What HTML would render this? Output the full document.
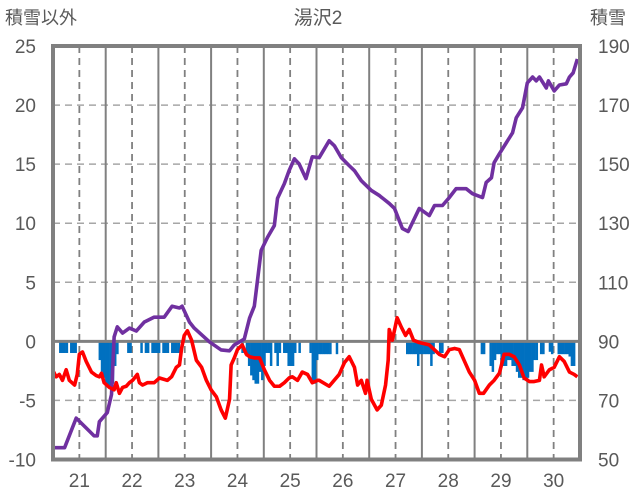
<!DOCTYPE html>
<html><head><meta charset="utf-8"><style>
html,body{margin:0;padding:0;background:#fff;}
svg{display:block;font-family:"Liberation Sans","Noto Sans CJK JP",sans-serif;}
</style></head><body>
<svg id="chart" width="636" height="501" viewBox="0 0 636 501">
<text x="5" y="24" font-size="18" fill="#595959">積雪以外</text>
<text x="318" y="24" font-size="19" fill="#595959" text-anchor="middle">湯沢2</text>
<text x="590" y="24" font-size="18" fill="#595959">積雪</text>
<g id="grid"></g><g id="bars"></g><g id="lines"></g><g id="axes"></g>
</svg>
<script>
const dayTicks=[21,22,23,24,25,26,27,28,29,30];
const leftTicks=[25,20,15,10,5,0,-5,-10];
const rightTicks=[190,170,150,130,110,90,70,50];
const barStartDay=20.49;
const hourlyBars=[0,0,0,-0.9,-0.9,-0.9,-0.9,0,-0.9,-0.9,-0.9,0,0,0,0,0,0,0,0,0,0,-1.5,-2.5,-3,-3.5,-3.8,-3.8,-3.5,-2,-1,0,0,0,0,-0.9,-0.9,0,0,0,0,-0.9,0,-0.9,-0.9,0,-0.9,-0.9,-0.9,-0.9,0,-0.9,-0.9,-0.9,0,-0.9,-0.9,-0.9,-0.9,0,0,0,0,0,0,0,0,0,0,0,0,0,0,0,0,0,0,0,0,0,0,0,0,0,0,0,0,-0.9,0,-1.2,-2,-2.8,-3.2,-3.5,-3.5,-2.5,-3.2,-2,-0.9,-0.9,-2,0,-0.9,-2,-0.9,0,-0.9,-0.9,-2,-2,-2,-0.9,0,-0.9,0,0,0,0,-0.9,-3.5,-3.5,-1.5,-1,-1,-1,-1,-1,-1,0,0,-1,0,0,0,0,0,0,0,0,0,0,0,0,0,0,0,0,0,0,0,0,0,0,0,0,0,0,0,0,0,0,0,-1,-1,-1,-1,-1,-2,-1,-1,-1,-1,-1,-2,-1,0,0,-0.9,-0.9,0,0,0,0,0,0,0,0,0,0,0,0,0,0,0,0,0,-1,-1,0,0,-2,-2.5,-1.5,-1,-1,-1.5,-2,-2,-1.5,-1.5,-2,-2,-2.5,-3,-3,-3.2,-3.2,-3,-2.5,-2.5,-1.5,-1.5,0,-1,-1,0,0,-0.8,-1,0,0,-1,-1,-1,-1,-1,-1.2,-2,-2,0,0];
const snowDays=[20.49,20.72,20.94,21.19,21.28,21.34,21.38,21.53,21.61,21.66,21.72,21.82,21.95,22.08,22.23,22.42,22.61,22.76,22.90,22.95,23.09,23.18,23.47,23.69,23.85,23.94,24.13,24.23,24.32,24.45,24.57,24.70,24.76,24.89,24.98,25.08,25.17,25.30,25.42,25.55,25.74,25.84,25.97,26.12,26.22,26.35,26.54,26.69,26.88,26.98,27.13,27.24,27.45,27.64,27.74,27.89,28.02,28.15,28.34,28.46,28.65,28.72,28.82,28.87,28.97,29.10,29.22,29.29,29.41,29.50,29.60,29.67,29.73,29.86,29.90,30.01,30.11,30.24,30.30,30.37,30.45];
const snowDepth=[54,54,64,59.6,58,58,62.8,65.9,72,91.5,94.9,92.8,94.5,93.5,96.5,98.2,98.2,101.9,101.3,101.9,96.5,94.5,89.8,87.1,86.8,88.8,90.8,97.9,101.9,120.8,125.2,129.2,138.4,143.4,147.8,151.8,150.1,145.1,152.5,152.2,157.9,156.2,152.2,149.5,147.8,144.4,141.1,139.4,136.7,135.0,128.2,127.2,135,132.6,136,136,138.7,141.7,141.7,140.0,138.7,143.8,145.4,150.5,153.5,157.2,160.6,165.7,169.1,177.5,179.5,178.2,179.5,175.8,178.2,174.8,176.8,177.2,179.5,180.9,185.6];
const otherDays=[20.49,20.56,20.62,20.68,20.75,20.81,20.91,20.96,21.0,21.06,21.13,21.23,21.32,21.38,21.42,21.47,21.57,21.66,21.70,21.76,21.82,21.89,21.95,22.01,22.10,22.14,22.20,22.29,22.42,22.52,22.67,22.75,22.84,22.90,22.94,22.99,23.05,23.13,23.22,23.32,23.41,23.50,23.60,23.69,23.77,23.85,23.88,23.94,24.0,24.09,24.17,24.23,24.32,24.42,24.51,24.61,24.70,24.80,24.89,24.98,25.04,25.14,25.23,25.33,25.42,25.52,25.55,25.74,25.93,26.03,26.12,26.22,26.28,26.35,26.43,26.46,26.54,26.65,26.73,26.81,26.86,26.88,26.94,27.03,27.11,27.19,27.26,27.34,27.45,27.64,27.83,27.93,28.02,28.12,28.21,28.31,28.40,28.50,28.59,28.67,28.78,28.87,28.97,29.06,29.16,29.25,29.35,29.44,29.54,29.63,29.73,29.77,29.82,29.92,30.01,30.11,30.20,30.30,30.39,30.45];
const otherValues=[-2.4,-3.0,-2.8,-3.3,-2.4,-3.3,-3.7,-2.8,-1.1,-0.9,-1.7,-2.6,-2.9,-3.0,-2.7,-3.5,-3.9,-4.1,-3.5,-4.4,-3.9,-3.8,-3.5,-3.3,-2.8,-3.5,-3.7,-3.5,-3.5,-3.1,-3.3,-3.0,-2.2,-2.0,-0.6,0.5,0.9,0.1,-1.6,-2.2,-3.3,-4.1,-4.7,-5.8,-6.5,-4.9,-2.0,-1.4,-0.7,-0.3,-1.1,-1.3,-1.4,-1.4,-2.4,-3.3,-3.8,-3.8,-3.5,-3.1,-3.0,-3.3,-2.6,-2.8,-3.5,-3.3,-3.3,-3.8,-2.8,-1.8,-1.3,-2.2,-3.7,-3.3,-4.4,-3.3,-4.9,-5.8,-5.4,-3.7,-1.6,1.0,0.1,2.0,1.2,0.5,1.0,0.1,-0.1,-0.3,-1.1,-1.3,-0.7,-0.6,-0.7,-1.7,-2.6,-3.3,-4.4,-4.4,-3.7,-3.3,-2.7,-1.1,-1.1,-1.3,-2.0,-3.1,-3.4,-3.4,-3.3,-2.0,-3.0,-2.4,-2.2,-1.3,-1.7,-2.6,-2.8,-3.0];

const NS='http://www.w3.org/2000/svg';
const X0=53,X1=580,Y0=46,Y1=459.5;
const xs=d=>X0+(d-20.5)*(X1-X0)/10;
const yl=v=>Y0+(25-v)*(Y1-Y0)/35;
const yr=s=>Y0+(190-s)*(Y1-Y0)/140;
function mk(tag,attrs,parent){const e=document.createElementNS(NS,tag);for(const k in attrs)e.setAttribute(k,attrs[k]);parent.appendChild(e);return e;}
const grid=document.getElementById('grid'),bars=document.getElementById('bars'),lines=document.getElementById('lines'),axes=document.getElementById('axes');
leftTicks.forEach((v,i)=>{
  if(v!==0&&v!==25&&v!==-10){const l=mk('line',{x1:X0,x2:X1,y1:yl(v),y2:yl(v),stroke:'#a6a6a6','stroke-width':1.5,'stroke-dasharray':'7,5'},grid);
  
  }
  const t=mk('text',{x:36,y:yl(v)+7,'font-size':19,fill:'#595959','text-anchor':'end'},axes);t.textContent=v;
  
  
});
rightTicks.forEach(s=>{
  const t=mk('text',{x:598,y:yr(s)+7,'font-size':19,fill:'#595959'},axes);t.textContent=s;
  
  
});
dayTicks.forEach(d=>{
  const l=mk('line',{x1:xs(d),x2:xs(d),y1:Y0,y2:Y1,stroke:'#808080','stroke-width':1.8,'stroke-dasharray':'7,5'},grid);
  
  
  if(d<30){const s=mk('line',{x1:xs(d+0.5),x2:xs(d+0.5),y1:Y0,y2:Y1,stroke:'#808080','stroke-width':2},grid);
  
  }
  const t=mk('text',{x:xs(d),y:487,'font-size':19,fill:'#595959','text-anchor':'middle'},axes);t.textContent=d;
  
  
});
const bw=(X1-X0)/10/24;
hourlyBars.forEach((v,i)=>{
  if(v===0)return;
  const x=xs(barStartDay+i/24);
  const r=mk('rect',{x:x,y:yl(0)+1,width:bw+0.3,height:yl(v)-yl(0),fill:'#0070c0'},bars);
  
  
});
const z=mk('line',{x1:X0,x2:X1,y1:yl(0),y2:yl(0),stroke:'#808080','stroke-width':3},bars);


const sp=mk('polyline',{points:snowDays.map((d,i)=>xs(d)+','+yr(snowDepth[i])).join(' '),fill:'none',stroke:'#7030a0','stroke-width':3.6,'stroke-linejoin':'round'},lines);


const op=mk('polyline',{points:otherDays.map((d,i)=>xs(d)+','+yl(otherValues[i])).join(' '),fill:'none',stroke:'#ff0000','stroke-width':3.6,'stroke-linejoin':'round'},lines);


const f=mk('rect',{x:X0,y:Y0,width:X1-X0,height:Y1-Y0,fill:'none',stroke:'#808080','stroke-width':4},axes);


</script>
</body></html>
